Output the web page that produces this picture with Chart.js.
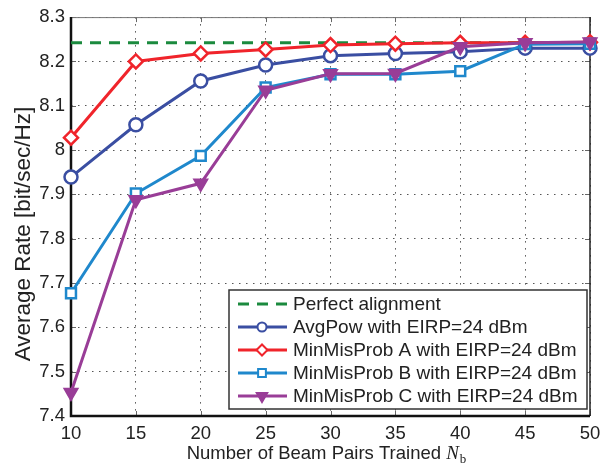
<!DOCTYPE html>
<html lang="en">
<head>
<meta charset="UTF-8">
<title>Average Rate vs Number of Beam Pairs Trained</title>
<style>
  html, body { margin: 0; padding: 0; background: #fff; }
  #wrap { width: 608px; height: 466px; }
</style>
</head>
<body>
<div id="wrap"><canvas id="rateChart" width="608" height="466"></canvas></div>
<script src="https://cdn.jsdelivr.net/npm/chart.js"></script>
<script>
// values
const beamPairs = [10, 15, 20, 25, 30, 35, 40, 45, 50];
const perfectAlignment = [8.242, 8.242, 8.242, 8.242, 8.242, 8.242, 8.242, 8.242, 8.242];
const avgPow = [7.939, 8.057, 8.156, 8.192, 8.213, 8.218, 8.222, 8.230, 8.230];
const minMisProbA = [8.028, 8.200, 8.218, 8.227, 8.237, 8.240, 8.242, 8.242, 8.243];
const minMisProbB = [7.677, 7.902, 7.987, 8.141, 8.171, 8.171, 8.178, 8.239, 8.240];
const minMisProbC = [7.453, 7.888, 7.925, 8.135, 8.172, 8.173, 8.233, 8.242, 8.244];
const seriesLabels = [
    "Perfect alignment",
    "AvgPow with EIRP=24 dBm",
    "MinMisProb A with EIRP=24 dBm",
    "MinMisProb B with EIRP=24 dBm",
    "MinMisProb C with EIRP=24 dBm"
];
const yTitle = "Average Rate [bit/sec/Hz]";
const xTitle = "Number of Beam Pairs Trained ";

const FONT = '"Liberation Sans", Arial, Helvetica, sans-serif';
const SERIF = '"Liberation Serif", "Times New Roman", serif';
const toPoints = ys => beamPairs.map((x, i) => ({ x: x, y: ys[i] }));

function marker(ctx, style, rot, r, x, y, stroke, fill, lw) {
    ctx.save();
    ctx.strokeStyle = stroke;
    ctx.fillStyle = fill;
    ctx.lineWidth = lw;
    Chart.helpers.drawPoint(ctx, { pointStyle: style, rotation: rot, radius: r, borderWidth: lw }, x, y);
    ctx.restore();
}

// axes box: thick left/bottom, thin top/right, inward ticks
const boxPlugin = {
    id: "box",
    beforeDatasetsDraw(chart) {
        const { ctx, chartArea: a, scales } = chart;
        ctx.save();
        ctx.strokeStyle = "#666";
        ctx.lineWidth = 1;
        ctx.beginPath();
        scales.x.ticks.forEach(t => {
            const px = Math.round(scales.x.getPixelForValue(t.value)) + 0.5;
            ctx.moveTo(px, a.top); ctx.lineTo(px, a.top + 5);
            ctx.moveTo(px, a.bottom); ctx.lineTo(px, a.bottom - 5);
        });
        scales.y.ticks.forEach(t => {
            const py = Math.round(scales.y.getPixelForValue(t.value)) + 0.5;
            ctx.moveTo(a.left, py); ctx.lineTo(a.left + 5, py);
            ctx.moveTo(a.right, py); ctx.lineTo(a.right - 5, py);
        });
        ctx.stroke();
        ctx.strokeStyle = "#777";
        ctx.beginPath();
        ctx.moveTo(a.left, a.top + 0.5); ctx.lineTo(a.right, a.top + 0.5);
        ctx.stroke();
        ctx.strokeStyle = "#222";
        ctx.lineWidth = 1.5;
        ctx.beginPath();
        ctx.moveTo(a.right, a.top); ctx.lineTo(a.right, a.bottom);
        ctx.stroke();
        ctx.strokeStyle = "#111";
        ctx.lineWidth = 2.5;
        ctx.beginPath();
        ctx.moveTo(a.left, a.top); ctx.lineTo(a.left, a.bottom); ctx.lineTo(a.right, a.bottom);
        ctx.stroke();
        ctx.restore();
    }
};

// legend box inside the plot (lower right) and the two axis titles
const legendPlugin = {
    id: "innerLegend",
    afterDraw(chart) {
        const { ctx, chartArea: a } = chart;
        const bx = a.right - 361, by = a.bottom - 126, bw = 358, bh = 119;
        ctx.save();
        ctx.fillStyle = "#fff";
        ctx.fillRect(bx, by, bw, bh);
        ctx.strokeStyle = "#333";
        ctx.lineWidth = 1.5;
        ctx.strokeRect(bx, by, bw, bh);
        const legendMarkers = [null, ["circle", 0, 4.5], ["rectRot", 0, 5.5], ["rect", 0, 5.5], ["triangle", 180, 6]];
        chart.data.datasets.forEach((ds, i) => {
            const y = by + 14 + i * 23;
            ctx.save();
            ctx.strokeStyle = ds.borderColor;
            ctx.lineWidth = ds.borderWidth;
            ctx.setLineDash(ds.borderDash || []);
            ctx.beginPath();
            ctx.moveTo(bx + 9, y); ctx.lineTo(bx + 58, y);
            ctx.stroke();
            ctx.restore();
            const m = legendMarkers[i];
            if (m) marker(ctx, m[0], m[1], m[2], bx + 33, y, ds.pointBorderColor, ds.pointBackgroundColor, 2);
            ctx.fillStyle = "#222";
            ctx.font = "19px " + FONT;
            ctx.textBaseline = "middle";
            ctx.textAlign = "left";
            ctx.fillText(ds.label, bx + 64, y + 1);
        });

        // y title, rotated
        ctx.save();
        ctx.translate(24, 234);
        ctx.rotate(-Math.PI / 2);
        ctx.font = "22.5px " + FONT;
        ctx.fillStyle = "#222";
        ctx.textAlign = "center";
        ctx.textBaseline = "middle";
        ctx.fillText(yTitle, 0, 0);
        ctx.restore();

        // x title with italic N and subscript b
        ctx.font = "18.5px " + FONT;
        const w1 = ctx.measureText(xTitle).width;
        ctx.font = "italic 19px " + SERIF;
        const w2 = ctx.measureText("N").width;
        ctx.font = "13px " + SERIF;
        const w3 = ctx.measureText("b").width;
        let x = (a.left + a.right) / 2 - 4 - (w1 + w2 + w3 + 1) / 2;
        const base = 459;
        ctx.textBaseline = "alphabetic";
        ctx.textAlign = "left";
        ctx.fillStyle = "#222";
        ctx.font = "18.5px " + FONT;
        ctx.fillText(xTitle, x, base);
        x += w1;
        ctx.font = "italic 19px " + SERIF;
        ctx.fillText("N", x, base);
        x += w2 + 1;
        ctx.font = "13px " + SERIF;
        ctx.fillText("b", x, base + 4);
        ctx.restore();
    }
};

const ctx = document.getElementById("rateChart").getContext("2d");
new Chart(ctx, {
    type: "line",
    data: {
        datasets: [
            {
                label: seriesLabels[0],
                data: toPoints(perfectAlignment),
                borderColor: "#1b8a3e",
                borderWidth: 3,
                borderDash: [11, 8],
                pointRadius: 0,
                order: 5
            },
            {
                label: seriesLabels[1],
                data: toPoints(avgPow),
                borderColor: "#3a4ea2",
                pointBorderColor: "#3a4ea2",
                pointBackgroundColor: "#fff",
                borderWidth: 3,
                pointStyle: "circle",
                pointRadius: 6.5,
                pointBorderWidth: 2.5,
                order: 4
            },
            {
                label: seriesLabels[2],
                data: toPoints(minMisProbA),
                borderColor: "#f0242b",
                pointBorderColor: "#f0242b",
                pointBackgroundColor: "#fff",
                borderWidth: 3,
                pointStyle: "rectRot",
                pointRadius: 7,
                pointBorderWidth: 2.5,
                order: 3
            },
            {
                label: seriesLabels[3],
                data: toPoints(minMisProbB),
                borderColor: "#1f88cc",
                pointBorderColor: "#1f88cc",
                pointBackgroundColor: "#fff",
                borderWidth: 3,
                pointStyle: "rect",
                pointRadius: 7,
                pointBorderWidth: 2.5,
                order: 2
            },
            {
                label: seriesLabels[4],
                data: toPoints(minMisProbC),
                borderColor: "#993d97",
                pointBorderColor: "#993d97",
                pointBackgroundColor: "#993d97",
                borderWidth: 3,
                pointStyle: "triangle",
                pointRotation: 180,
                pointRadius: 8,
                pointBorderWidth: 1.5,
                order: 1
            }
        ]
    },
    options: {
        responsive: false,
        animation: false,
        clip: false,
        layout: { padding: { left: 0, right: 18, top: 15, bottom: 0 } },
        plugins: {
            legend: { display: false },
            tooltip: { enabled: false }
        },
        elements: { line: { tension: 0, fill: false } },
        scales: {
            x: {
                type: "linear",
                min: 10,
                max: 50,
                afterFit: s => { s.height = 50; },
                ticks: {
                    stepSize: 5,
                    padding: 7,
                    color: "#222",
                    font: { family: FONT, size: 18.5 },
                    maxRotation: 0
                },
                grid: { color: "#555", lineWidth: 1, drawTicks: false },
                border: { display: false, dash: [1.5, 5.5] }
            },
            y: {
                min: 7.4,
                max: 8.3,
                afterFit: s => { s.width = 71; },
                ticks: {
                    stepSize: 0.1,
                    padding: 6,
                    color: "#222",
                    font: { family: FONT, size: 18.5 },
                    callback: v => String(Number(v.toFixed(1)))
                },
                grid: { color: "#555", lineWidth: 1, drawTicks: false },
                border: { display: false, dash: [1.5, 5.5] }
            }
        }
    },
    plugins: [boxPlugin, legendPlugin]
});
</script>
</body>
</html>
